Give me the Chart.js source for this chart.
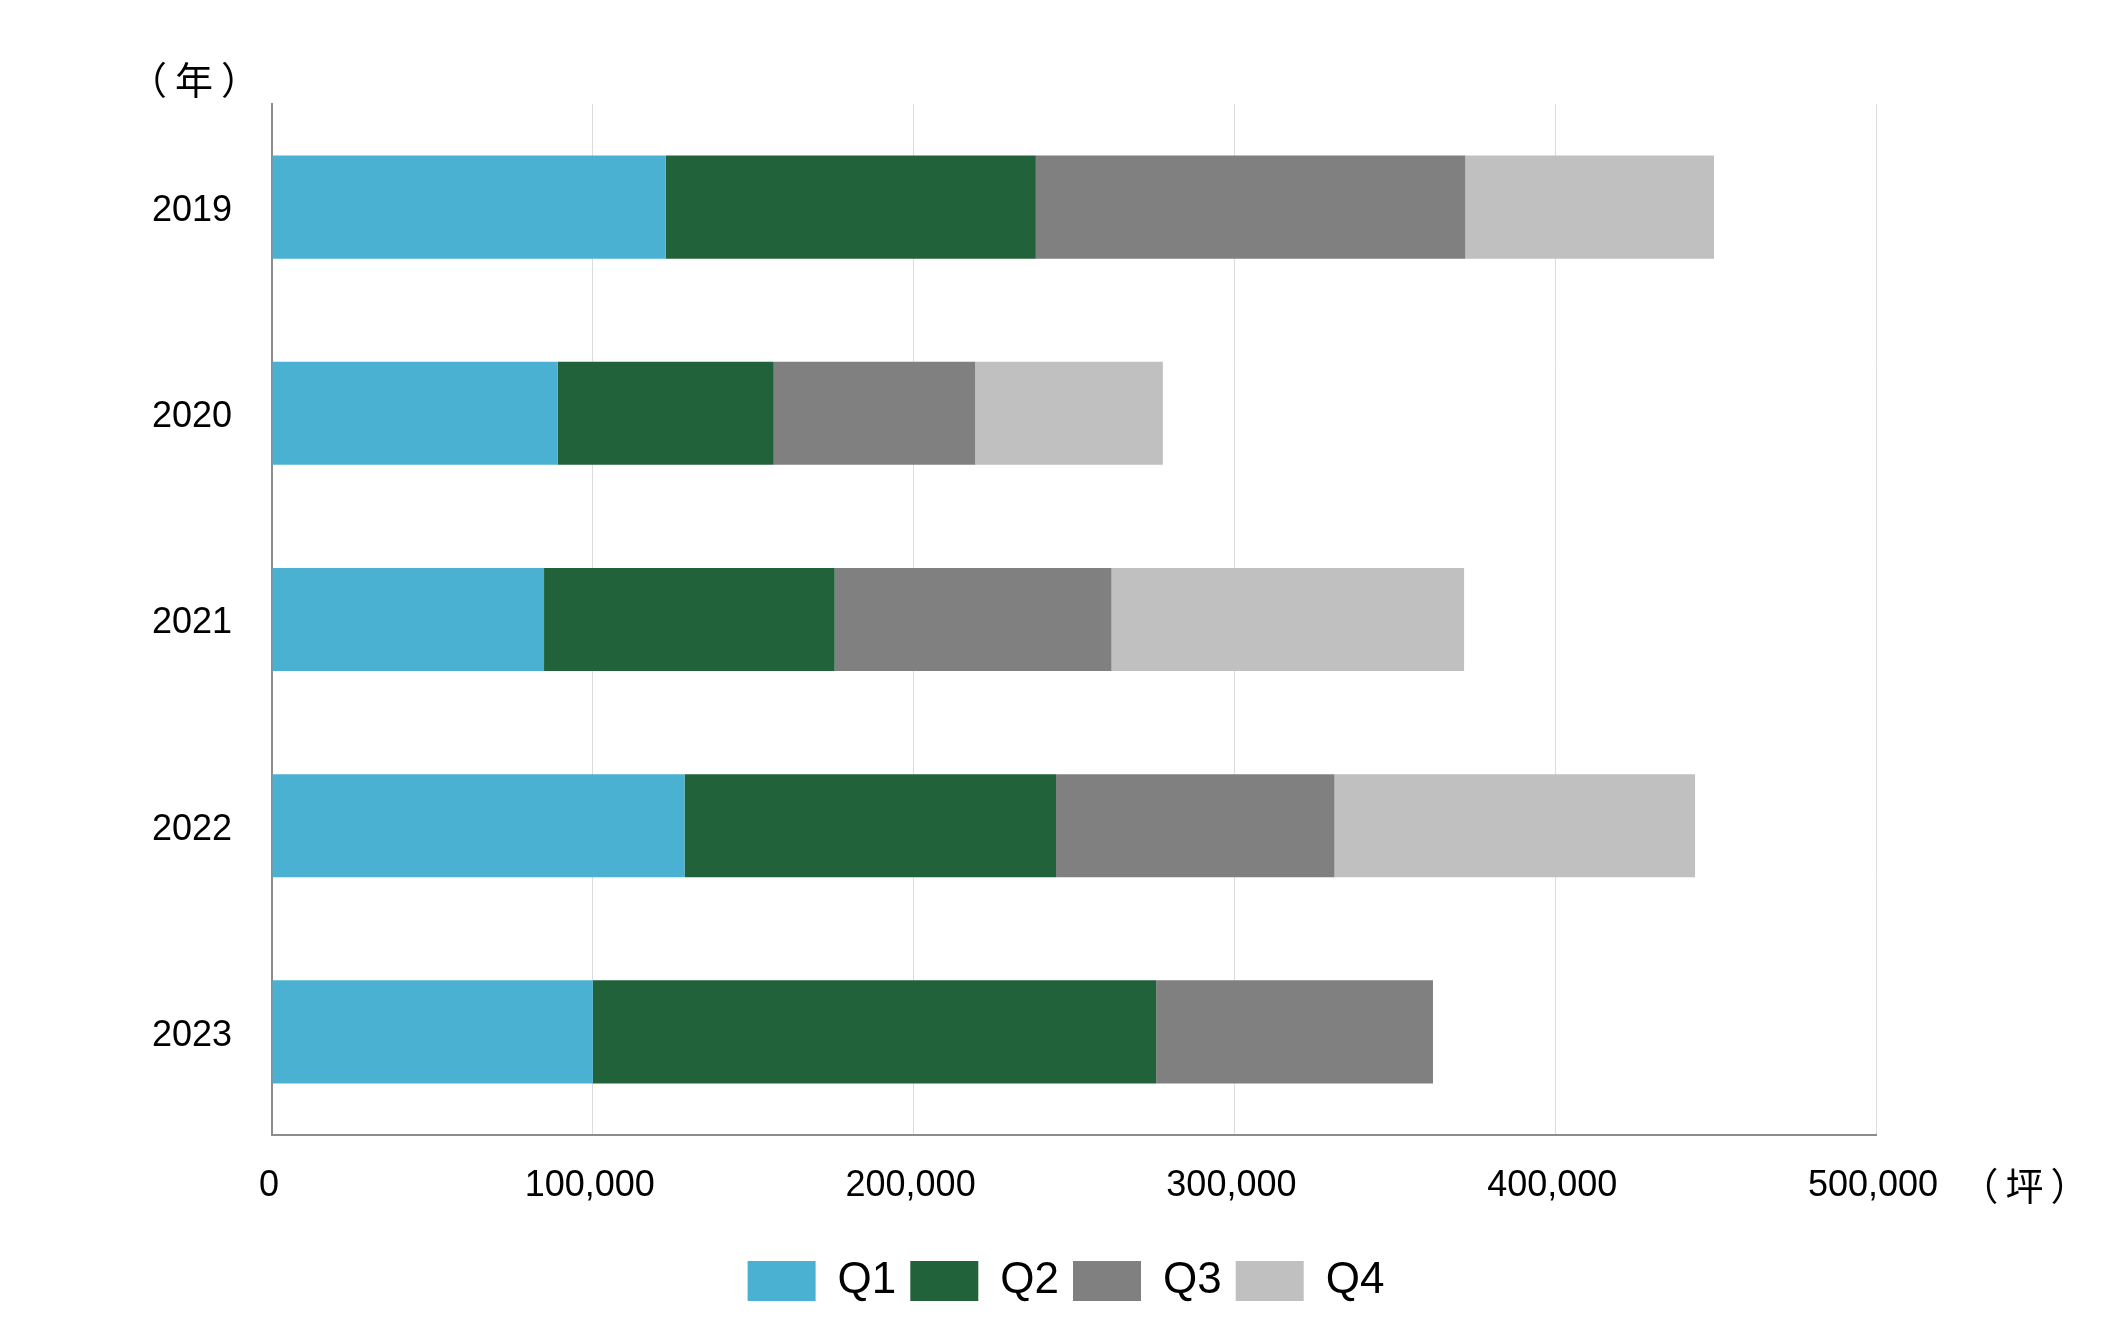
<!DOCTYPE html>
<html>
<head>
<meta charset="utf-8">
<script src="https://cdn.jsdelivr.net/npm/chart.js@4.4.1/dist/chart.umd.min.js"></script>
<style>
  html, body { margin: 0; padding: 0; background: #ffffff; }
  #wrap { width: 2118px; height: 1335px; position: relative; }
</style>
</head>
<body>
<div id="wrap"><canvas id="c"></canvas></div>
<script>
const years = ['2019', '2020', '2021', '2022', '2023'];
const seriesNames = ['Q1', 'Q2', 'Q3', 'Q4'];
const q1 = [122700, 89100, 84800, 128600, 100000];
const q2 = [115400, 67300, 90600, 115800, 175600];
const q3 = [133900, 62800, 86300, 86800, 86300];
const q4 = [77500, 58500, 109900, 112400, null];
const xTicks = [0, 100000, 200000, 300000, 400000, 500000];
const yAxisUnit = '（年）';
const xAxisUnit = '（坪）';

const colors = ['#4AB1D3', '#21623A', '#808080', '#C0C0C0'];
const FONT = "'Liberation Sans', Arial, 'Noto Sans CJK JP', sans-serif";
const CJK = "'Noto Sans CJK JP', 'Liberation Sans', sans-serif";

const unitPlugin = {
  id: 'unitLabels',
  afterDraw(chart) {
    const ctx = chart.ctx;
    ctx.save();
    ctx.fillStyle = '#000000';
    ctx.font = '38px ' + CJK;
    ctx.textAlign = 'center';
    ctx.textBaseline = 'middle';
    ctx.letterSpacing = '8px';
    ctx.fillText(yAxisUnit, 194 + 4, 80);
    ctx.letterSpacing = '7px';
    ctx.fillText(xAxisUnit, 2025 + 3, 1186);
    ctx.restore();
  }
};

new Chart(document.getElementById('c'), {
  type: 'bar',
  data: {
    labels: years,
    datasets: [
      { label: seriesNames[0], data: q1, backgroundColor: colors[0] },
      { label: seriesNames[1], data: q2, backgroundColor: colors[1] },
      { label: seriesNames[2], data: q3, backgroundColor: colors[2] },
      { label: seriesNames[3], data: q4, backgroundColor: colors[3] }
    ]
  },
  options: {
    indexAxis: 'y',
    responsive: true,
    maintainAspectRatio: false,
    animation: false,
    devicePixelRatio: 1,
    categoryPercentage: 1.0,
    barPercentage: 0.5,
    layout: { padding: { top: 104, right: 0, bottom: 22, left: 14 } },
    scales: {
      x: {
        stacked: true,
        min: 0,
        max: 500000,
        afterBuildTicks(scale) { scale.ticks = xTicks.map(v => ({ value: v })); },
        afterFit(scale) { scale.height = 110; },
        ticks: {
          color: '#000000',
          font: { family: FONT, size: 36 },
          padding: 29,
          labelOffset: -3,
          callback: v => v.toLocaleString('en-US')
        },
        grid: {
          display: true,
          drawTicks: false,
          color: ctx => (ctx.tick && ctx.tick.value === 0) ? 'rgba(0,0,0,0)' : '#dcdcdc',
          lineWidth: 1
        },
        border: { display: true, color: '#8c8c8c', width: 2 }
      },
      y: {
        stacked: true,
        afterFit(scale) { scale.width = 258; },
        ticks: {
          color: '#000000',
          font: { family: FONT, size: 36 },
          padding: 40,
          labelOffset: 4
        },
        grid: { display: false, drawTicks: false },
        border: { display: true, color: '#8c8c8c', width: 2 }
      },
      yRightSpace: {
        type: 'category',
        position: 'right',
        display: true,
        afterFit(scale) { scale.width = 242; },
        ticks: { display: false },
        grid: { display: false, drawTicks: false },
        border: { display: false }
      }
    },
    plugins: {
      legend: {
        position: 'bottom',
        labels: {
          boxWidth: 68,
          boxHeight: 40,
          padding: 14,
          color: '#000000',
          font: { family: FONT, size: 44 }
        }
      },
      tooltip: { enabled: false }
    }
  },
  plugins: [unitPlugin]
});
</script>
</body>
</html>
